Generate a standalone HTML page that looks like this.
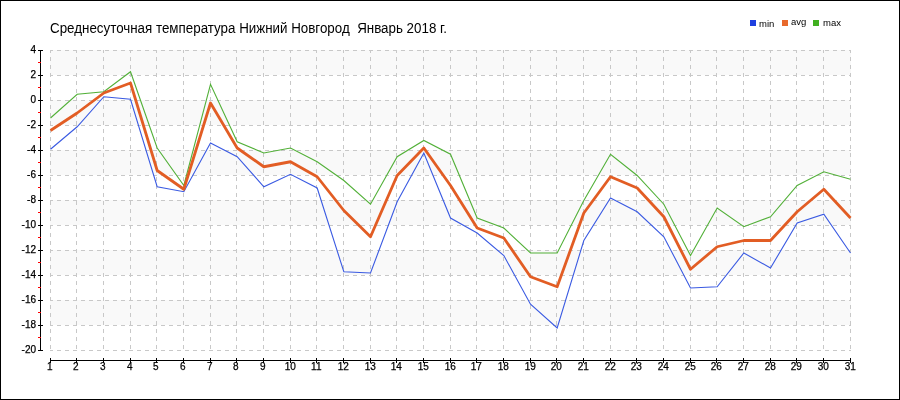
<!DOCTYPE html>
<html><head><meta charset="utf-8"><style>
html,body{margin:0;padding:0;background:#fff;}
body{width:900px;height:400px;overflow:hidden;position:relative;font-family:"Liberation Sans",sans-serif;}
svg{position:absolute;left:0;top:0;will-change:transform;}
</style></head><body>
<svg width="900" height="400" viewBox="0 0 900 400">
<rect x="0" y="0" width="900" height="400" fill="#fff"/>

<rect x="50" y="50" width="801" height="25" fill="#f9f9f9"/>
<rect x="50" y="100" width="801" height="25" fill="#f9f9f9"/>
<rect x="50" y="150" width="801" height="25" fill="#f9f9f9"/>
<rect x="50" y="200" width="801" height="25" fill="#f9f9f9"/>
<rect x="50" y="250" width="801" height="25" fill="#f9f9f9"/>
<rect x="50" y="300" width="801" height="25" fill="#f9f9f9"/>
<path d="M50.5 50V351M76.5 50V351M103.5 50V351M130.5 50V351M156.5 50V351M183.5 50V351M210.5 50V351M236.5 50V351M263.5 50V351M290.5 50V351M316.5 50V351M343.5 50V351M370.5 50V351M396.5 50V351M423.5 50V351M450.5 50V351M476.5 50V351M503.5 50V351M530.5 50V351M556.5 50V351M583.5 50V351M610.5 50V351M636.5 50V351M663.5 50V351M690.5 50V351M716.5 50V351M743.5 50V351M770.5 50V351M796.5 50V351M823.5 50V351M850.5 50V351M50 50.5H851M50 75.5H851M50 100.5H851M50 125.5H851M50 150.5H851M50 175.5H851M50 200.5H851M50 225.5H851M50 250.5H851M50 275.5H851M50 300.5H851M50 325.5H851M50 350.5H851" stroke="#c8c8c8" stroke-width="1" fill="none" stroke-dasharray="4 4" stroke-dashoffset="1" shape-rendering="crispEdges"/>
<path d="M40.5 50V351" stroke="#000" stroke-width="1" shape-rendering="crispEdges"/>
<path d="M38 50.5H43M38 75.5H43M38 100.5H43M38 125.5H43M38 150.5H43M38 175.5H43M38 200.5H43M38 225.5H43M38 250.5H43M38 275.5H43M38 300.5H43M38 325.5H43M38 350.5H43" stroke="#000" stroke-width="1" shape-rendering="crispEdges"/>
<path d="M38 62.5H41M38 87.5H41M38 112.5H41M38 137.5H41M38 162.5H41M38 187.5H41M38 212.5H41M38 237.5H41M38 262.5H41M38 287.5H41M38 312.5H41M38 337.5H41" stroke="#ff0000" stroke-width="1" shape-rendering="crispEdges"/>
<path d="M50 360.5H851" stroke="#000" stroke-width="1" shape-rendering="crispEdges"/>
<path d="M50.5 358V363M76.5 358V363M103.5 358V363M130.5 358V363M156.5 358V363M183.5 358V363M210.5 358V363M236.5 358V363M263.5 358V363M290.5 358V363M316.5 358V363M343.5 358V363M370.5 358V363M396.5 358V363M423.5 358V363M450.5 358V363M476.5 358V363M503.5 358V363M530.5 358V363M556.5 358V363M583.5 358V363M610.5 358V363M636.5 358V363M663.5 358V363M690.5 358V363M716.5 358V363M743.5 358V363M770.5 358V363M796.5 358V363M823.5 358V363M850.5 358V363" stroke="#000" stroke-width="1" shape-rendering="crispEdges"/>
<text x="36" y="53.4" text-anchor="end" font-size="10" fill="#000" stroke="#000" stroke-width="0.25">4</text>
<text x="36" y="78.4" text-anchor="end" font-size="10" fill="#000" stroke="#000" stroke-width="0.25">2</text>
<text x="36" y="103.4" text-anchor="end" font-size="10" fill="#000" stroke="#000" stroke-width="0.25">0</text>
<text x="36" y="128.4" text-anchor="end" font-size="10" fill="#000" stroke="#000" stroke-width="0.25">-2</text>
<text x="36" y="153.4" text-anchor="end" font-size="10" fill="#000" stroke="#000" stroke-width="0.25">-4</text>
<text x="36" y="178.4" text-anchor="end" font-size="10" fill="#000" stroke="#000" stroke-width="0.25">-6</text>
<text x="36" y="203.4" text-anchor="end" font-size="10" fill="#000" stroke="#000" stroke-width="0.25">-8</text>
<text x="36" y="228.4" text-anchor="end" font-size="10" fill="#000" stroke="#000" stroke-width="0.25">-10</text>
<text x="36" y="253.4" text-anchor="end" font-size="10" fill="#000" stroke="#000" stroke-width="0.25">-12</text>
<text x="36" y="278.4" text-anchor="end" font-size="10" fill="#000" stroke="#000" stroke-width="0.25">-14</text>
<text x="36" y="303.4" text-anchor="end" font-size="10" fill="#000" stroke="#000" stroke-width="0.25">-16</text>
<text x="36" y="328.4" text-anchor="end" font-size="10" fill="#000" stroke="#000" stroke-width="0.25">-18</text>
<text x="36" y="353.4" text-anchor="end" font-size="10" fill="#000" stroke="#000" stroke-width="0.25">-20</text>
<text x="49.8" y="370.3" text-anchor="middle" font-size="10" fill="#000" stroke="#000" stroke-width="0.25">1</text>
<text x="75.8" y="370.3" text-anchor="middle" font-size="10" fill="#000" stroke="#000" stroke-width="0.25">2</text>
<text x="102.8" y="370.3" text-anchor="middle" font-size="10" fill="#000" stroke="#000" stroke-width="0.25">3</text>
<text x="129.8" y="370.3" text-anchor="middle" font-size="10" fill="#000" stroke="#000" stroke-width="0.25">4</text>
<text x="155.8" y="370.3" text-anchor="middle" font-size="10" fill="#000" stroke="#000" stroke-width="0.25">5</text>
<text x="182.8" y="370.3" text-anchor="middle" font-size="10" fill="#000" stroke="#000" stroke-width="0.25">6</text>
<text x="209.8" y="370.3" text-anchor="middle" font-size="10" fill="#000" stroke="#000" stroke-width="0.25">7</text>
<text x="235.8" y="370.3" text-anchor="middle" font-size="10" fill="#000" stroke="#000" stroke-width="0.25">8</text>
<text x="262.8" y="370.3" text-anchor="middle" font-size="10" fill="#000" stroke="#000" stroke-width="0.25">9</text>
<text x="290.3" y="370.3" text-anchor="middle" font-size="10" fill="#000" stroke="#000" stroke-width="0.25">10</text>
<text x="316.3" y="370.3" text-anchor="middle" font-size="10" fill="#000" stroke="#000" stroke-width="0.25">11</text>
<text x="343.3" y="370.3" text-anchor="middle" font-size="10" fill="#000" stroke="#000" stroke-width="0.25">12</text>
<text x="370.3" y="370.3" text-anchor="middle" font-size="10" fill="#000" stroke="#000" stroke-width="0.25">13</text>
<text x="396.3" y="370.3" text-anchor="middle" font-size="10" fill="#000" stroke="#000" stroke-width="0.25">14</text>
<text x="423.3" y="370.3" text-anchor="middle" font-size="10" fill="#000" stroke="#000" stroke-width="0.25">15</text>
<text x="450.3" y="370.3" text-anchor="middle" font-size="10" fill="#000" stroke="#000" stroke-width="0.25">16</text>
<text x="476.3" y="370.3" text-anchor="middle" font-size="10" fill="#000" stroke="#000" stroke-width="0.25">17</text>
<text x="503.3" y="370.3" text-anchor="middle" font-size="10" fill="#000" stroke="#000" stroke-width="0.25">18</text>
<text x="530.3" y="370.3" text-anchor="middle" font-size="10" fill="#000" stroke="#000" stroke-width="0.25">19</text>
<text x="556.3" y="370.3" text-anchor="middle" font-size="10" fill="#000" stroke="#000" stroke-width="0.25">20</text>
<text x="583.3" y="370.3" text-anchor="middle" font-size="10" fill="#000" stroke="#000" stroke-width="0.25">21</text>
<text x="610.3" y="370.3" text-anchor="middle" font-size="10" fill="#000" stroke="#000" stroke-width="0.25">22</text>
<text x="636.3" y="370.3" text-anchor="middle" font-size="10" fill="#000" stroke="#000" stroke-width="0.25">23</text>
<text x="663.3" y="370.3" text-anchor="middle" font-size="10" fill="#000" stroke="#000" stroke-width="0.25">24</text>
<text x="690.3" y="370.3" text-anchor="middle" font-size="10" fill="#000" stroke="#000" stroke-width="0.25">25</text>
<text x="716.3" y="370.3" text-anchor="middle" font-size="10" fill="#000" stroke="#000" stroke-width="0.25">26</text>
<text x="743.3" y="370.3" text-anchor="middle" font-size="10" fill="#000" stroke="#000" stroke-width="0.25">27</text>
<text x="770.3" y="370.3" text-anchor="middle" font-size="10" fill="#000" stroke="#000" stroke-width="0.25">28</text>
<text x="796.3" y="370.3" text-anchor="middle" font-size="10" fill="#000" stroke="#000" stroke-width="0.25">29</text>
<text x="823.3" y="370.3" text-anchor="middle" font-size="10" fill="#000" stroke="#000" stroke-width="0.25">30</text>
<text x="850.3" y="370.3" text-anchor="middle" font-size="10" fill="#000" stroke="#000" stroke-width="0.25">31</text>
<polyline points="50.50,149.25 77.17,126.75 103.83,96.75 130.50,99.25 157.17,186.75 183.83,191.75 210.50,143.00 237.17,156.75 263.83,186.75 290.50,174.25 317.17,188.00 343.83,271.75 370.50,273.00 397.17,201.75 423.83,153.00 450.50,218.00 477.17,233.00 503.83,255.50 530.50,304.25 557.17,328.00 583.83,240.50 610.50,198.00 637.17,211.75 663.83,236.75 690.50,288.00 717.17,286.75 743.83,253.00 770.50,268.00 797.17,223.00 823.83,214.25 850.50,253.00" fill="none" stroke="#3a5ae2" stroke-width="1.1" stroke-linejoin="miter"/>
<polyline points="50.50,118.00 77.17,94.25 103.83,91.75 130.50,71.75 157.17,148.00 183.83,185.50 210.50,84.25 237.17,141.75 263.83,153.00 290.50,148.00 317.17,161.75 343.83,180.50 370.50,204.25 397.17,156.75 423.83,140.50 450.50,154.25 477.17,218.00 503.83,228.00 530.50,253.00 557.17,253.00 583.83,200.50 610.50,154.25 637.17,175.50 663.83,204.25 690.50,255.50 717.17,208.00 743.83,226.75 770.50,216.75 797.17,185.50 823.83,171.75 850.50,179.25" fill="none" stroke="#52b038" stroke-width="1.1" stroke-linejoin="miter"/>
<polyline points="50.50,130.50 77.17,113.00 103.83,93.00 130.50,83.00 157.17,170.50 183.83,189.25 210.50,103.00 237.17,148.00 263.83,166.75 290.50,161.75 317.17,176.75 343.83,210.50 370.50,236.75 397.17,175.50 423.83,148.00 450.50,185.50 477.17,228.00 503.83,238.00 530.50,276.75 557.17,286.75 583.83,213.00 610.50,176.75 637.17,188.00 663.83,216.75 690.50,269.25 717.17,246.75 743.83,240.50 770.50,240.50 797.17,211.75 823.83,189.25 850.50,218.00" fill="none" stroke="#e25d24" stroke-width="2.8" stroke-linejoin="round"/>
<text x="50" y="33" font-size="14" fill="#000" xml:space="preserve" textLength="397" lengthAdjust="spacingAndGlyphs">Среднесуточная температура Нижний Новгород  Январь 2018 г.</text>
<rect x="750" y="20" width="6" height="6" fill="#1e40e0"/>
<text x="759" y="26.5" font-size="9.5" fill="#000">min</text>
<rect x="782" y="20" width="6" height="6" fill="#e8692c"/>
<text x="791" y="24.5" font-size="9.5" fill="#000">avg</text>
<rect x="813" y="20" width="6" height="6" fill="#40b020"/>
<text x="823" y="26" font-size="9.5" fill="#000">max</text>
<rect x="0.5" y="0.5" width="899" height="399" fill="none" stroke="#000" stroke-width="1" shape-rendering="crispEdges"/>
</svg></body></html>
